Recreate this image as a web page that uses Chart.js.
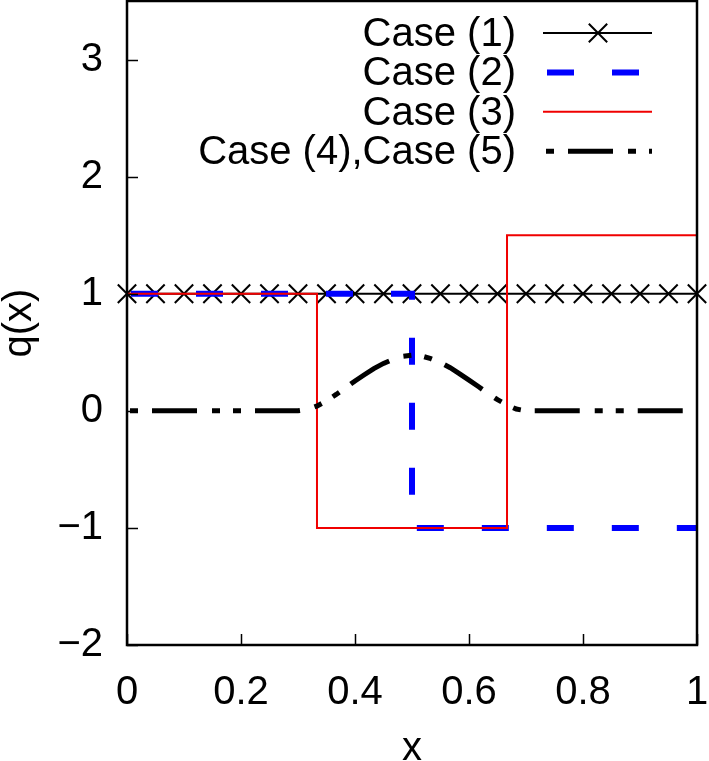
<!DOCTYPE html>
<html>
<head>
<meta charset="utf-8">
<title>q(x)</title>
<script src="https://cdn.jsdelivr.net/npm/chart.js@4.4.1/dist/chart.umd.min.js"></script>
<style>
  html, body { margin: 0; padding: 0; background: #fff; }
  canvas { display: block; }
</style>
</head>
<body>
<canvas id="chart" width="709" height="761"></canvas>
<script>
// tick values
const xTicks = [0, 0.2, 0.4, 0.6, 0.8, 1];
const yTicks = [-2, -1, 0, 1, 2, 3];

// Case (1): constant 1, sampled every 0.05
const case1X = [0, 0.05, 0.1, 0.15, 0.2, 0.25, 0.3, 0.35, 0.4, 0.45, 0.5,
                0.55, 0.6, 0.65, 0.7, 0.75, 0.8, 0.85, 0.9, 0.95, 1];
const case1Y = [1, 1, 1, 1, 1, 1, 1, 1, 1, 1, 1, 1, 1, 1, 1, 1, 1, 1, 1, 1, 1];

// Case (2): step at x = 0.5
const case2X = [0, 0.5, 0.5, 1];
const case2Y = [1, 1, -1, -1];

// Case (3): steps at 1/3 and 2/3
const case3X = [0, 0.3333, 0.3333, 0.6667, 0.6667, 1];
const case3Y = [1, 1, -1, -1, 1.5, 1.5];

// Case (4),(5): bump around x = 0.5
const case45X = [0, 0.3, 0.317, 0.333, 0.35, 0.367, 0.383, 0.4, 0.417, 0.433, 0.45, 0.467, 0.483,
                 0.5, 0.517, 0.533, 0.55, 0.567, 0.583, 0.6, 0.617, 0.633, 0.65, 0.667, 0.683, 0.7, 1];
const case45Y = [0, 0, 0.012, 0.04, 0.085, 0.14, 0.195, 0.255, 0.31, 0.36, 0.405, 0.44, 0.465,
                 0.475, 0.468, 0.445, 0.412, 0.368, 0.318, 0.262, 0.205, 0.15, 0.095, 0.05, 0.015, 0, 0];

const seriesLabels = ['Case (1)', 'Case (2)', 'Case (3)', 'Case (4),Case (5)'];

const FONT = '"Liberation Sans", Arial, Helvetica, sans-serif';

const pts = (xs, ys) => xs.map((x, i) => ({ x, y: ys[i] }));

// frame + inward tick marks (gnuplot style, no mirror)
const frame = {
    id: 'frame',
    afterDatasetsDraw(chart) {
        const { ctx, chartArea: a, scales } = chart;
        ctx.save();
        ctx.strokeStyle = '#000';
        ctx.lineWidth = 1.5;
        ctx.beginPath();
        yTicks.forEach(v => {
            const y = Math.round(scales.y.getPixelForValue(v)) + 0.5;
            ctx.moveTo(a.left, y); ctx.lineTo(a.left + 11, y);
        });
        xTicks.forEach(v => {
            const x = Math.round(scales.x.getPixelForValue(v)) + 0.5;
            ctx.moveTo(x, a.bottom); ctx.lineTo(x, a.bottom - 11);
        });
        ctx.stroke();
        ctx.lineWidth = 2.5;
        ctx.strokeRect(a.left, a.top, a.right - a.left, a.bottom - a.top);
        ctx.restore();
    }
};

// key in the top right, text right-aligned with the sample after it
const key = {
    id: 'key',
    afterDatasetsDraw(chart) {
        const ctx = chart.ctx;
        chart.data.datasets.forEach((ds, i) => {
            const y = 33 + i * 39.4;
            ctx.save();
            ctx.font = '40px ' + FONT;
            ctx.textAlign = 'right';
            ctx.textBaseline = 'middle';
            ctx.fillStyle = '#000';
            ctx.fillText(ds.label, 516, y + 2);
            ctx.strokeStyle = ds.borderColor;
            ctx.lineWidth = ds.borderWidth;
            ctx.setLineDash(ds.borderDash || []);
            ctx.lineDashOffset = ds.borderDashOffset || 0;
            ctx.beginPath();
            ctx.moveTo(543, y); ctx.lineTo(652, y);
            ctx.stroke();
            if (ds.pointRadius > 0) {
                ctx.setLineDash([]);
                ctx.strokeStyle = ds.pointBorderColor;
                ctx.lineWidth = ds.pointBorderWidth;
                Chart.helpers.drawPoint(ctx, {
                    pointStyle: ds.pointStyle, radius: ds.pointRadius,
                    borderWidth: ds.pointBorderWidth, rotation: 0
                }, 598, y);
            }
            ctx.restore();
        });
    }
};

new Chart(document.getElementById('chart'), {
    type: 'line',
    data: {
        datasets: [
            {
                label: seriesLabels[0],
                data: pts(case1X, case1Y),
                borderColor: '#000',
                borderWidth: 2,
                pointStyle: 'crossRot',
                pointRadius: 13,
                pointBorderWidth: 2,
                pointBorderColor: '#000',
                pointBackgroundColor: '#000',
                clip: false,
                order: 4
            },
            {
                label: seriesLabels[1],
                data: pts(case2X, case2Y),
                borderColor: '#0000ff',
                borderWidth: 6,
                borderDash: [27, 38],
                borderDashOffset: 61,
                pointRadius: 0,
                order: 3
            },
            {
                label: seriesLabels[2],
                data: pts(case3X, case3Y),
                borderColor: '#f00000',
                borderWidth: 2,
                pointRadius: 0,
                order: 2
            },
            {
                label: seriesLabels[3],
                data: pts(case45X, case45Y),
                borderColor: '#000',
                borderWidth: 5,
                borderDash: [45, 15, 8, 13, 8, 14],
                borderDashOffset: 78,
                pointRadius: 0,
                order: 1
            }
        ]
    },
    options: {
        responsive: false,
        animation: false,
        layout: { autoPadding: false, padding: { top: 1, right: 12, left: 0, bottom: 0 } },
        plugins: { legend: { display: false }, tooltip: { enabled: false } },
        scales: {
            x: {
                type: 'linear',
                min: 0,
                max: 1,
                afterBuildTicks: (s) => { s.ticks = xTicks.map(v => ({ value: v })); },
                afterFit: (s) => { s.height = 116; s.paddingLeft = 0; s.paddingRight = 0; },
                grid: { display: false },
                border: { display: false },
                ticks: {
                    padding: 16, color: '#000', maxRotation: 0, autoSkip: false,
                    font: { family: FONT, size: 40 },
                    callback: (v) => String(v)
                },
                title: {
                    display: true, text: 'x', color: '#000', padding: { top: 0, bottom: -8 },
                    font: { family: FONT, size: 40, lineHeight: 1 }
                }
            },
            y: {
                type: 'linear',
                min: -2,
                max: 3.5,
                afterBuildTicks: (s) => { s.ticks = yTicks.map(v => ({ value: v })); },
                afterFit: (s) => { s.width = 127; s.paddingTop = 0; s.paddingBottom = 0; },
                grid: { display: false },
                border: { display: false },
                ticks: {
                    padding: 16, color: '#000', autoSkip: false,
                    font: { family: FONT, size: 40 },
                    callback: (v) => v < 0 ? '\u2212' + Math.abs(v) : String(v)
                },
                title: {
                    display: true, text: 'q(x)', color: '#000', padding: 0,
                    font: { family: FONT, size: 40, lineHeight: 1 }
                }
            }
        }
    },
    plugins: [frame, key]
});
</script>
</body>
</html>
